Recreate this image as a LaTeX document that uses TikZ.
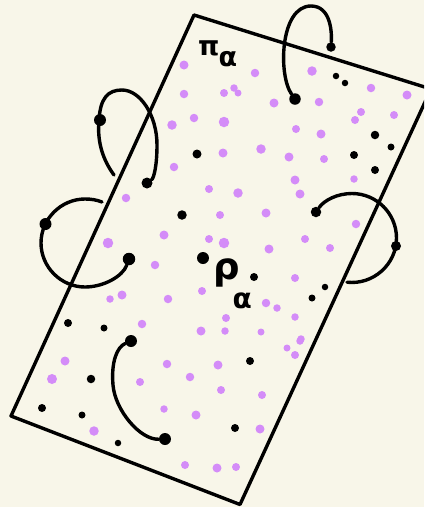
\documentclass[tikz,border=0pt]{standalone}
\usepackage{fontspec}
\newfontfamily\greekfont{DejaVu Sans}
\definecolor{bgcream}{RGB}{248,246,233}
\definecolor{dotpurple}{RGB}{212,140,248}
\begin{document}
\begin{tikzpicture}[x=1pt,y=-1pt,
  bdot/.style={circle,fill=black,inner sep=0pt,minimum size=#1pt},
  pdot/.style={circle,fill=dotpurple,inner sep=0pt,minimum size=#1pt},
  plane/.style={line width=3.4pt,line join=round},
  loopline/.style={line width=3.4pt,line cap=round},
  lbl/.style={inner sep=0pt,anchor=base west}]
\fill[bgcream] (0,0) rectangle (424,507);
\useasboundingbox (0,0) rectangle (424,507);
\begin{scope}
\clip (0,0) rectangle (424,507);
\coordinate (ctop) at (194,15);
\coordinate (cright) at (431,89);
\coordinate (cbottom) at (240,504.5);
\coordinate (cleft) at (11,416);
\draw[plane] (ctop) -- (cright) -- (cbottom) -- (cleft) -- cycle;
\end{scope}

% purple dots
\foreach \x/\y/\s [count=\i] in {
 184/65/9, 184/94/8.5, 194/118/8.5, 172/125/9.5, 174/167/8.5,
 255/73/8.5, 312/71/9.5, 371/88/8.5, 407/95/9, 234/88/7.5, 238/93/7, 224/93/8,
 274/103/9, 319/102/8.5, 361/112/8, 355/120/8, 394/115/8, 224/122/10.5,
 296/129/8, 321/134/9, 223/153/9, 261/149/9.5, 289/157/9, 324/159/8,
 126/198/8.5, 209/189/8, 164/235/9, 209/239/8, 108/243/10.5, 155/265/8.5,
 110/299/7.5, 122/295/9, 168/299/8.5, 202/291/8, 142/324/8.5, 201/331/9,
 295/180/9, 354/179/7.5, 238/193/9.5, 300/194/9, 220/215/8, 266/213/9,
 356/224/8.5, 224/243/10.5, 269/249/9, 305/239/8, 330/248/8, 295/278/8,
 266/303/8.5, 277/308/7.5, 226/318/8, 225/331/7.5, 261/332/7, 295/317/7.5, 301/339/7.5,
 65/361/9, 52/379/10, 167/364/8.5, 140/382/8, 190/377/8.5, 164/409/7.5, 196/415/9,
 94/431/9.5, 185/465/8,
 300/341/7.5, 287/348/7, 295/355/8, 218/365/9, 221/390/8, 262/395/8,
 260/429/9, 217/468/9, 236/467/8}
 \node[pdot=\s] (p\i) at (\x,\y) {};

% loose black dots
\foreach \x/\y/\s [count=\i] in {
 203/258/12, 197/154/9, 182/215/9.5, 375/135/8.5, 354/155/8, 375/170/8,
 391/147/7, 336/76/6.5, 345/83/6.5, 254/277/8, 325/287/6.5, 312/298/7,
 68/323/8, 104/328/7, 91/379/8.5, 42/408/8, 82/415/7, 118/443/6.5,
 250/361/8, 235/428/8}
 \node[bdot=\s] (k\i) at (\x,\y) {};

% loop end dots
\node[bdot=11.5] (d1a) at (295,99) {};
\node[bdot=9.5]  (d1b) at (331,47) {};
\node[bdot=12]   (d2a) at (100,120) {};
\node[bdot=11]   (d2b) at (147,183) {};
\node[bdot=12]   (d3a) at (45.5,224) {};
\node[bdot=12.5] (d3b) at (129,259) {};
\node[bdot=10.5] (d4a) at (316,212) {};
\node[bdot=10]   (d4b) at (396,246) {};
\node[bdot=12]   (d5a) at (131,341) {};
\node[bdot=12]   (d5b) at (165,439) {};
\coordinate (f2) at (114,175);
\coordinate (f3) at (102,202);
\coordinate (f4) at (347,282.2);

% loops
\draw[loopline] (d1a) .. controls (278,75) and (280,6) .. (311,6)
  .. controls (330,6) and (332,30) .. (d1b);
\draw[loopline] (f2) .. controls (103,160) and (97,142) .. (99,121)
  .. controls (100,98) and (108,90) .. (122,90)
  .. controls (140,90) and (157,115) .. (157,145)
  .. controls (157,165) and (154,178) .. (d2b);
\draw[loopline] (f3) .. controls (96.7,199.8) and (90.8,199) .. (85,199)
  .. controls (61,199) and (41,219) .. (41,243)
  .. controls (41,267) and (61,287) .. (85,287)
  .. controls (103.5,287) and (122.7,276.4) .. (d3b);
\draw[loopline] (d4a) .. controls (324.3,200.1) and (337.5,193.5) .. (352,193.5)
  .. controls (376.5,193.5) and (396.5,213.5) .. (396.5,238)
  .. controls (396.5,264.4) and (373.2,285.1) .. (f4);
\draw[loopline] (d5a) .. controls (117,347) and (111,362) .. (113,385)
  .. controls (115,410) and (140,440) .. (d5b);

% labels
\node[lbl] (pilabel) at (198,55) {\greekfont\bfseries\fontsize{27}{30}\selectfont π\kern-1pt\raisebox{-11pt}{α}};
\node[lbl] (rholabel) at (213,279) {\greekfont\bfseries\fontsize{37}{40}\selectfont ρ\kern-7pt\raisebox{-29pt}{\fontsize{28}{31}\selectfont α}};
\end{tikzpicture}
\end{document}
